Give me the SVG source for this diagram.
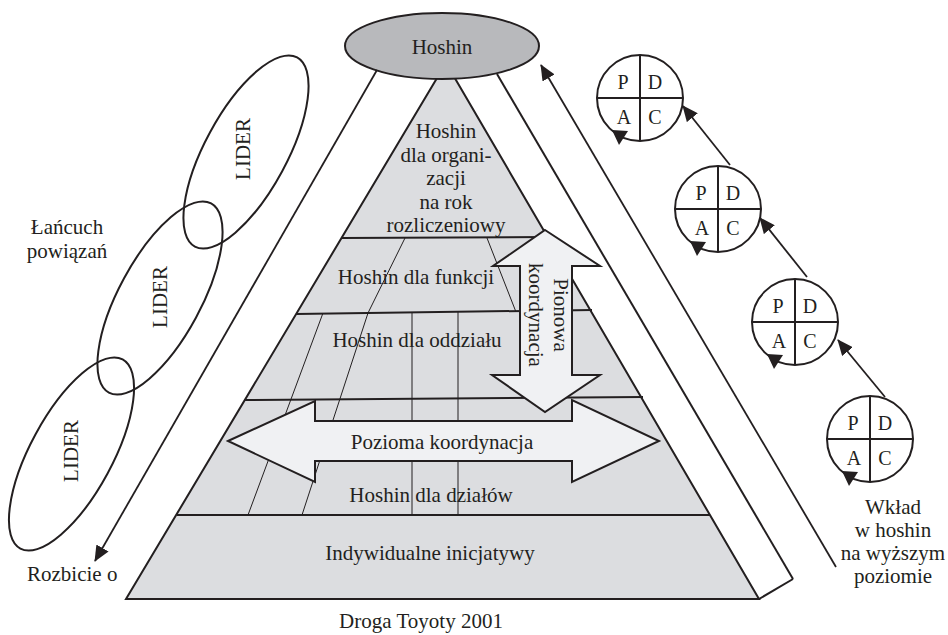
<svg xmlns="http://www.w3.org/2000/svg" width="948" height="635" viewBox="0 0 948 635">
<style>
text{font-family:"Liberation Serif","Times New Roman",serif;font-size:21px;fill:#231f20;text-anchor:middle}
.ln{stroke:#231f20;stroke-width:2;fill:none}
.thin{stroke:#231f20;stroke-width:1;fill:none}
.arr{stroke:#231f20;stroke-width:1.8;fill:none;marker-end:url(#ah)}
.big{fill:#f0f1f3;stroke:#231f20;stroke-width:2;stroke-linejoin:miter}
.lider{fill:none;stroke:#231f20;stroke-width:2}
.pd text{font-size:20px}
</style>
<defs>
<marker id="ah" markerUnits="userSpaceOnUse" markerWidth="16" markerHeight="14" viewBox="0 0 16 14" refX="15" refY="7" orient="auto">
<path d="M0,0 L16,7 L0,14 z" fill="#231f20"/>
</marker>
</defs>
<rect width="948" height="635" fill="#ffffff"/>

<g id="pyramid">
<polygon points="126,599 446,63 759,599" fill="#dcdde0" stroke="#231f20" stroke-width="2"/>
<line class="ln" x1="341" y1="238" x2="548" y2="237"/>
<line class="ln" x1="296" y1="314" x2="592" y2="310"/>
<line class="ln" x1="245" y1="400" x2="643" y2="397"/>
<line class="ln" x1="177" y1="515" x2="710" y2="515"/>
<line class="thin" x1="405" y1="238" x2="368" y2="313"/>
<line class="thin" x1="368" y1="313" x2="302" y2="515"/>
<line class="thin" x1="323" y1="313" x2="248" y2="515"/>
<line class="thin" x1="487" y1="238" x2="516" y2="312"/>
<line class="thin" x1="412" y1="313" x2="412" y2="515"/>
<line class="thin" x1="458" y1="312" x2="458" y2="515"/>
</g>

<g id="layer-org">
<text x="446" y="138">Hoshin</text>
<text x="446" y="162">dla organi-</text>
<text x="446" y="185">zacji</text>
<text x="446" y="209">na rok</text>
<text x="446" y="232">rozliczeniowy</text>
</g>
<g id="layer-funkcji"><text x="416" y="284">Hoshin dla funkcji</text></g>
<g id="layer-oddzialu"><text x="417" y="347">Hoshin dla oddziału</text></g>
<g id="layer-dzialow"><text x="431" y="502">Hoshin dla działów</text></g>
<g id="layer-indyw"><text x="430" y="560">Indywidualne inicjatywy</text></g>

<g id="band">
<line class="ln" x1="497" y1="74" x2="793" y2="579"/>
<line class="ln" x1="793" y1="579" x2="759" y2="599"/>
</g>

<g id="hoshin">
<ellipse cx="442" cy="46" rx="97" ry="33" fill="#b8b9bc" stroke="#231f20" stroke-width="2"/>
<text x="442" y="54">Hoshin</text>
</g>

<g id="pionowa">
<polygon class="big" points="545,230 600,266 572,266 572,375 600,375 545,412 492,375 520,375 520,266 493,266"/>
<text transform="translate(554,315) rotate(90)">Pionowa</text>
<text transform="translate(529,315) rotate(90)">koordynacja</text>
</g>

<g id="pozioma">
<polygon class="big" points="228,441 315,401 315,421 572,421 572,400 659,441 572,482 572,461 315,461 315,482"/>
<text x="442" y="449">Pozioma koordynacja</text>
</g>

<g id="lider1">
<ellipse class="lider" cx="246" cy="152" rx="107.5" ry="41" transform="rotate(-61.6 246 152)"/>
<text transform="translate(250,149) rotate(-90)">LIDER</text>
</g>
<g id="lider2">
<ellipse class="lider" cx="160" cy="298" rx="107.5" ry="41" transform="rotate(-61.6 160 298)"/>
<text transform="translate(167,297) rotate(-90)">LIDER</text>
</g>
<g id="lider3">
<ellipse class="lider" cx="71.5" cy="454" rx="107.5" ry="41" transform="rotate(-61.6 71.5 454)"/>
<text transform="translate(78,451) rotate(-90)">LIDER</text>
</g>

<g id="lancuch">
<text x="67" y="234">Łańcuch</text>
<text x="67" y="258">powiązań</text>
</g>
<g id="rozbicie"><text x="27" y="581" style="text-anchor:start">Rozbicie o</text></g>

<g id="pdca1" class="pd" transform="translate(640,98)">
<circle r="43" fill="#ffffff" stroke="#231f20" stroke-width="2"/>
<line class="ln" x1="0" y1="-43" x2="0" y2="43"/><line class="ln" x1="-43" y1="0" x2="43" y2="0"/>
<text x="-17" y="-9">P</text><text x="15" y="-9">D</text><text x="-16" y="26">A</text><text x="15" y="26">C</text>
<polygon points="-28,32 -12,33 -21,47" fill="#231f20"/>
</g>
<g id="pdca2" class="pd" transform="translate(718,209)">
<circle r="43" fill="#ffffff" stroke="#231f20" stroke-width="2"/>
<line class="ln" x1="0" y1="-43" x2="0" y2="43"/><line class="ln" x1="-43" y1="0" x2="43" y2="0"/>
<text x="-17" y="-9">P</text><text x="15" y="-9">D</text><text x="-16" y="26">A</text><text x="15" y="26">C</text>
<polygon points="-28,32 -12,33 -21,47" fill="#231f20"/>
</g>
<g id="pdca3" class="pd" transform="translate(795,322)">
<circle r="43" fill="#ffffff" stroke="#231f20" stroke-width="2"/>
<line class="ln" x1="0" y1="-43" x2="0" y2="43"/><line class="ln" x1="-43" y1="0" x2="43" y2="0"/>
<text x="-17" y="-9">P</text><text x="15" y="-9">D</text><text x="-16" y="26">A</text><text x="15" y="26">C</text>
<polygon points="-28,32 -12,33 -21,47" fill="#231f20"/>
</g>
<g id="pdca4" class="pd" transform="translate(870,439)">
<circle r="43" fill="#ffffff" stroke="#231f20" stroke-width="2"/>
<line class="ln" x1="0" y1="-43" x2="0" y2="43"/><line class="ln" x1="-43" y1="0" x2="43" y2="0"/>
<text x="-17" y="-9">P</text><text x="15" y="-9">D</text><text x="-16" y="26">A</text><text x="15" y="26">C</text>
<polygon points="-28,32 -12,33 -21,47" fill="#231f20"/>
</g>

<g id="wklad">
<text x="893" y="514">Wkład</text>
<text x="893" y="537">w hoshin</text>
<text x="893" y="560">na wyższym</text>
<text x="893" y="583">poziomie</text>
</g>

<g id="caption"><text x="421" y="628">Droga Toyoty 2001</text></g>

<g id="connectors">
<line class="arr" x1="885" y1="397" x2="838" y2="340"/>
<line class="arr" x1="807" y1="277" x2="760" y2="218"/>
<line class="arr" x1="730" y1="165" x2="683" y2="106"/>
<line class="arr" x1="836" y1="567" x2="541" y2="65"/>
<line class="arr" x1="377" y1="70" x2="95" y2="561"/>
</g>
</svg>
